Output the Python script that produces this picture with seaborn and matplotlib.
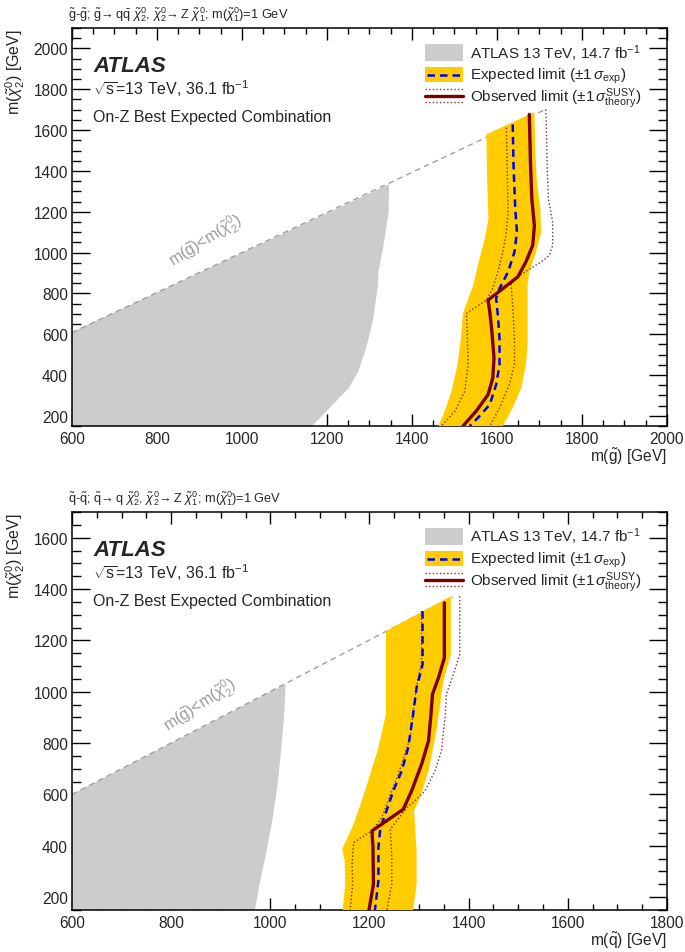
import matplotlib
matplotlib.use("Agg")
import matplotlib.pyplot as plt
from matplotlib.patches import Rectangle
from matplotlib.ticker import MultipleLocator
import seaborn as sns

# ---------------- data: gluino panel (top) ----------------
GL_GRAY_X = [600, 600, 1346, 1345, 1333, 1321, 1320, 1309, 1294, 1274, 1251, 1165]
GL_GRAY_Y = [150, 610, 1335, 1198, 1035, 905, 840, 678, 547, 418, 336, 150]
GL_DIAG_X = [600, 1715]
GL_DIAG_Y = [608, 1702]
GL_BAND_L_X = [1575, 1577, 1580, 1571, 1559, 1544, 1524, 1520, 1515, 1507, 1493, 1477, 1462]
GL_BAND_L_Y = [1579, 1344, 1165, 1067, 970, 840, 726, 702, 580, 450, 320, 223, 150]
GL_BAND_R_X = [1614, 1637, 1657, 1668, 1672, 1672, 1676, 1692, 1704, 1702, 1694, 1690, 1688]
GL_BAND_R_Y = [150, 239, 336, 450, 548, 840, 905, 1002, 1100, 1214, 1344, 1506, 1688]
GL_EXP_X = [1637, 1639, 1643, 1647, 1641, 1626, 1606, 1598, 1602, 1606, 1606, 1598, 1583, 1555, 1536]
GL_EXP_Y = [1628, 1425, 1214, 1100, 1002, 905, 824, 775, 694, 580, 450, 353, 255, 190, 150]
GL_OBS_X = [1676, 1679, 1682, 1688, 1684, 1668, 1649, 1614, 1579, 1583, 1588, 1593, 1590, 1579, 1551, 1520]
GL_OBS_Y = [1677, 1425, 1262, 1132, 1035, 954, 881, 824, 767, 710, 613, 483, 385, 304, 223, 150]
GL_OBSU_X = [1715, 1718, 1721, 1731, 1731, 1723, 1704, 1672, 1649, 1633, 1637, 1641, 1641, 1629, 1606, 1583]
GL_OBSU_Y = [1701, 1425, 1262, 1149, 1035, 986, 954, 913, 881, 848, 742, 580, 450, 353, 239, 150]
GL_OBSD_X = [1622, 1624, 1626, 1622, 1614, 1602, 1590, 1575, 1551, 1528, 1530, 1532, 1524, 1501, 1469]
GL_OBSD_Y = [1612, 1425, 1198, 1100, 1003, 905, 824, 767, 734, 702, 613, 450, 320, 223, 150]

# ---------------- data: squark panel (bottom) ----------------
SQ_GRAY_X = [600, 600, 1031, 1027, 1021, 1014, 1004, 991, 977, 969]
SQ_GRAY_Y = [150, 600, 1031, 886, 756, 627, 497, 367, 238, 150]
SQ_DIAG_X = [600, 1368]
SQ_DIAG_Y = [600, 1370]
SQ_BAND_L_X = [1233, 1233, 1218, 1191, 1168, 1145, 1150, 1151, 1146]
SQ_BAND_L_Y = [1236, 912, 782, 614, 484, 387, 341, 251, 150]
SQ_BAND_R_X = [1288, 1295, 1295, 1290, 1302, 1319, 1335, 1349, 1364, 1364, 1364]
SQ_BAND_R_Y = [150, 251, 380, 536, 588, 691, 847, 1041, 1145, 1353, 1372]
SQ_EXP_X = [1307, 1307, 1302, 1295, 1288, 1278, 1265, 1248, 1232, 1222, 1218, 1218, 1211]
SQ_EXP_Y = [1314, 1106, 1067, 1016, 912, 782, 691, 614, 523, 471, 393, 264, 150]
SQ_OBS_X = [1351, 1351, 1339, 1327, 1324, 1319, 1305, 1285, 1268, 1205, 1207, 1208, 1199]
SQ_OBS_Y = [1346, 1132, 1054, 990, 912, 808, 717, 614, 542, 458, 393, 251, 150]
SQ_OBSU_X = [1382, 1382, 1369, 1355, 1353, 1345, 1332, 1312, 1288, 1278, 1242, 1245, 1245, 1235]
SQ_OBSU_Y = [1372, 1145, 1067, 990, 912, 769, 691, 614, 568, 555, 465, 354, 251, 150]
SQ_OBSD_X = [1305, 1305, 1298, 1290, 1282, 1265, 1245, 1225, 1205, 1168, 1165, 1166, 1161]
SQ_OBSD_Y = [1314, 1106, 1054, 951, 821, 717, 614, 510, 458, 413, 328, 251, 150]

# ---------------- text ----------------
GL_HEADER = (r"$\mathrm{\tilde{g}}$-$\mathrm{\tilde{g}}$; $\mathrm{\tilde{g}}\!\rightarrow$q$\mathrm{\bar{q}}$ "
             r"$\tilde{\chi}^{0}_{2}$, $\tilde{\chi}^{0}_{2}\!\rightarrow$Z $\tilde{\chi}^{0}_{1}$; "
             r"m($\tilde{\chi}^{0}_{1}$)=1 GeV")
SQ_HEADER = (r"$\mathrm{\tilde{q}}$-$\mathrm{\tilde{q}}$; $\mathrm{\tilde{q}}\!\rightarrow$q "
             r"$\tilde{\chi}^{0}_{2}$, $\tilde{\chi}^{0}_{2}\!\rightarrow$Z $\tilde{\chi}^{0}_{1}$; "
             r"m($\tilde{\chi}^{0}_{1}$)=1 GeV")
YLABEL = r"m($\tilde{\chi}^{0}_{2}$) [GeV]"
GL_XLABEL = r"m($\mathrm{\tilde{g}}$) [GeV]"
SQ_XLABEL = r"m($\mathrm{\tilde{q}}$) [GeV]"
DIAG_LABEL = r"m($\mathrm{\tilde{g}}$)<m($\tilde{\chi}^{0}_{2}$)"
LEG_LABELS = [r"ATLAS 13 TeV, 14.7 fb$^{-1}$",
              r"Expected limit ($\pm1\,\sigma_{\mathrm{exp}}$)",
              r"Observed limit ($\pm1\,\sigma^{\mathrm{SUSY}}_{\mathrm{theory}}$)"]
LUMI = r"$\sqrt{\mathrm{s}}$=13 TeV, 36.1 fb$^{-1}$"
ANALYSIS = "On-Z Best Expected Combination"

sns.set_style("ticks")
plt.rcParams["font.family"] = ["Liberation Sans", "DejaVu Sans"]
plt.rcParams["mathtext.fontset"] = "custom"
plt.rcParams["mathtext.rm"] = "Liberation Sans"
plt.rcParams["mathtext.it"] = "Liberation Sans:italic"
plt.rcParams["mathtext.bf"] = "Liberation Sans:bold"
plt.rcParams["mathtext.sf"] = "Liberation Sans"

YELLOW = "#ffcc00"
GRAY = "#cccccc"
BLUE = "#0000ff"
DRED = "#7a0000"
DOT = "#8b2a2a"


def panel(ax, gx, gy, dx, dy, blx, bly, brx, bry, ex, ey, ox, oy, ux, uy, lx, ly,
          xlim, ylim, header, xlabel, diag_pos, diag_rot):
    ax.fill(gx, gy, color=GRAY, lw=0, zorder=1)
    sns.lineplot(x=dx, y=dy, sort=False, estimator=None, ax=ax, color="#a0a0a0",
                 lw=1.0, dashes=(4, 3), zorder=2)
    ax.fill(blx + brx, bly + bry, color=YELLOW, lw=0, zorder=3)
    for xx, yy in ((ux, uy), (lx, ly)):
        sns.lineplot(x=xx, y=yy, sort=False, estimator=None, ax=ax, color=DOT,
                     lw=1.0, dashes=(1, 1.6), zorder=4)
    sns.lineplot(x=ex, y=ey, sort=False, estimator=None, ax=ax, color=BLUE,
                 lw=1.8, dashes=(3, 2), zorder=5)
    sns.lineplot(x=ox, y=oy, sort=False, estimator=None, ax=ax, color=DRED,
                 lw=2.4, zorder=6)

    ax.set_xlim(*xlim)
    ax.set_ylim(*ylim)
    ax.set_xlabel("")
    ax.set_ylabel("")
    ax.xaxis.set_major_locator(MultipleLocator(200))
    ax.xaxis.set_minor_locator(MultipleLocator(50))
    ax.yaxis.set_major_locator(MultipleLocator(200))
    ax.yaxis.set_minor_locator(MultipleLocator(50))
    ax.tick_params(which="both", direction="in", top=True, right=True,
                   labelsize=11.2, width=1.0, color="black")
    ax.tick_params(axis="x", which="major", length=8.6, pad=3.5)
    ax.tick_params(axis="x", which="minor", length=4.3)
    ax.tick_params(axis="y", which="major", length=13, pad=3)
    ax.tick_params(axis="y", which="minor", length=6.5)
    for s in ax.spines.values():
        s.set_linewidth(1.1)
        s.set_color("black")

    ax.text(-0.007, 1.037, header, transform=ax.transAxes, ha="left", va="center", fontsize=9.2)
    ax.text(-0.095, 1.0, YLABEL, transform=ax.transAxes, rotation=90,
            ha="center", va="top", fontsize=11.5)
    ax.text(1.0, -0.05, xlabel, transform=ax.transAxes, ha="right", va="top", fontsize=11.2)
    ax.text(diag_pos[0], diag_pos[1], DIAG_LABEL, rotation=diag_rot, rotation_mode="anchor",
            ha="center", va="center", color="#9a9a9a", fontsize=11.5, zorder=7)

    # ATLAS label block
    ax.text(0.036, 0.893, "ATLAS", transform=ax.transAxes, fontsize=16,
            fontweight="bold", fontstyle="italic", va="baseline", ha="left")
    ax.text(0.036, 0.834, LUMI, transform=ax.transAxes, fontsize=11.5, va="baseline", ha="left")
    ax.text(0.036, 0.767, ANALYSIS, transform=ax.transAxes, fontsize=11.5, va="baseline", ha="left")

    # legend (manual, ROOT style)
    x0, x1 = 0.593, 0.657
    ax.add_patch(Rectangle((x0, 0.917), x1 - x0, 0.043, transform=ax.transAxes,
                           facecolor=GRAY, edgecolor="none", zorder=8))
    ax.add_patch(Rectangle((x0, 0.864), x1 - x0, 0.038, transform=ax.transAxes,
                           facecolor=YELLOW, edgecolor="none", zorder=8))
    ax.plot([x0 + 0.004, x1 - 0.004], [0.883, 0.883], transform=ax.transAxes,
            color=BLUE, lw=1.8, dashes=(3, 2), zorder=9)
    ax.plot([x0, x1], [0.830, 0.830], transform=ax.transAxes, color=DRED, lw=2.4, zorder=9)
    for yy in (0.846, 0.814):
        ax.plot([x0, x1], [yy, yy], transform=ax.transAxes, color=DOT, lw=1.0,
                dashes=(1, 1.6), zorder=9)
    for txt, yy in zip(LEG_LABELS, (0.926, 0.872, 0.817)):
        ax.text(0.669, yy, txt, transform=ax.transAxes, fontsize=11.0, va="baseline", ha="left")


fig = plt.figure(figsize=(6.85, 9.53), dpi=100)
ax1 = fig.add_axes([0.1051, 0.5519, 0.8686, 0.4176])
ax2 = fig.add_axes([0.1051, 0.0441, 0.8686, 0.4176])

panel(ax1, GL_GRAY_X, GL_GRAY_Y, GL_DIAG_X, GL_DIAG_Y,
      GL_BAND_L_X, GL_BAND_L_Y, GL_BAND_R_X, GL_BAND_R_Y,
      GL_EXP_X, GL_EXP_Y, GL_OBS_X, GL_OBS_Y, GL_OBSU_X, GL_OBSU_Y, GL_OBSD_X, GL_OBSD_Y,
      (600, 2000), (150, 2100), GL_HEADER, GL_XLABEL, (915, 1060), 32)
panel(ax2, SQ_GRAY_X, SQ_GRAY_Y, SQ_DIAG_X, SQ_DIAG_Y,
      SQ_BAND_L_X, SQ_BAND_L_Y, SQ_BAND_R_X, SQ_BAND_R_Y,
      SQ_EXP_X, SQ_EXP_Y, SQ_OBS_X, SQ_OBS_Y, SQ_OBSU_X, SQ_OBSU_Y, SQ_OBSD_X, SQ_OBSD_Y,
      (600, 1800), (150, 1700), SQ_HEADER, SQ_XLABEL, (858, 950), 33)

fig.savefig("out.png", dpi=100)
